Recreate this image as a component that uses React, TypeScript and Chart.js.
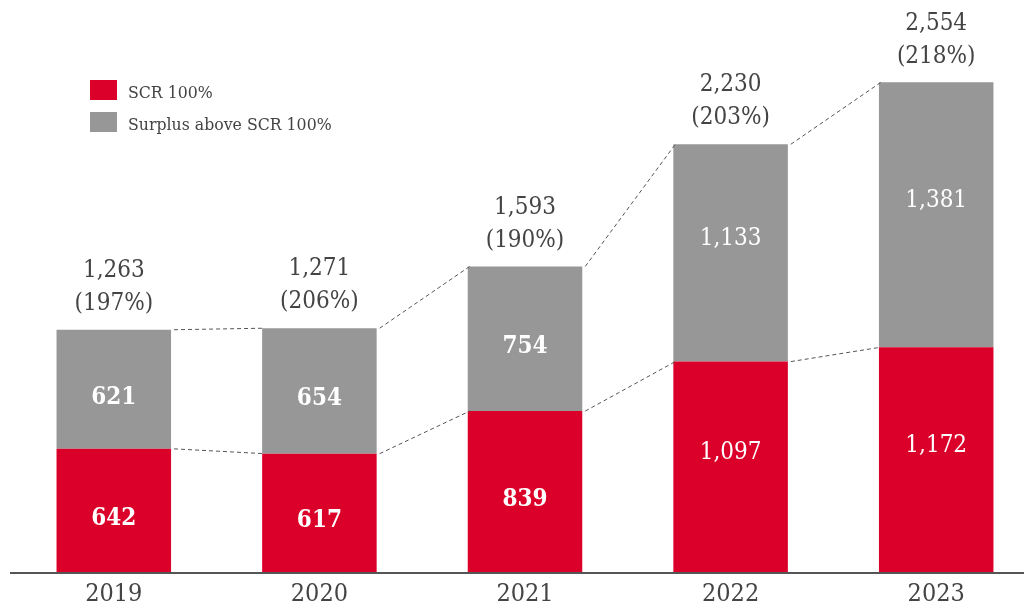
import React, { useEffect, useRef } from 'react';
import { Chart, registerables } from 'chart.js';

Chart.register(...registerables);

const years = ['2019', '2020', '2021', '2022', '2023'];
const scrValues = [642, 617, 839, 1097, 1172];
const surplusValues = [621, 654, 754, 1133, 1381];
const totalValues = [1263, 1271, 1593, 2230, 2554];
const ratioValues = [197, 206, 190, 203, 218];
const seriesNames = ['SCR 100%', 'Surplus above SCR 100%'];

const RED = '#db0029';
const GRAY = '#979797';
const TEXT = '#444444';
const FONT = '"DejaVu Serif Condensed", "DejaVu Serif", "Liberation Serif", serif';

const fmt = (v: number) => v.toLocaleString('en-US');

export default function App() {
  const ref = useRef<HTMLCanvasElement>(null);

  useEffect(() => {
    if (!ref.current) return;

    const overlay = {
      id: 'overlay',
      afterDatasetsDraw(chart: any) {
        const ctx = chart.ctx as CanvasRenderingContext2D;
        const area = chart.chartArea;
        const m0 = chart.getDatasetMeta(0).data as any[];
        const m1 = chart.getDatasetMeta(1).data as any[];
        ctx.save();

        // axis line
        ctx.strokeStyle = '#555555';
        ctx.lineWidth = 2;
        ctx.beginPath();
        ctx.moveTo(area.left - 1, area.bottom + 1);
        ctx.lineTo(area.right, area.bottom + 1);
        ctx.stroke();

        // dashed connectors
        ctx.strokeStyle = '#555555';
        ctx.lineWidth = 1;
        ctx.setLineDash([4, 3]);
        const connect = (arr: any[]) => {
          for (let i = 0; i < arr.length - 1; i++) {
            const a = arr[i];
            const b = arr[i + 1];
            ctx.beginPath();
            ctx.moveTo(a.x + a.width / 2 + 3, a.y);
            ctx.lineTo(b.x - b.width / 2 + 2, b.y);
            ctx.stroke();
          }
        };
        connect(m1);
        connect(m0);
        ctx.setLineDash([]);

        // inside labels
        ctx.textAlign = 'center';
        ctx.textBaseline = 'middle';
        ctx.fillStyle = '#ffffff';
        const inner = (arr: any[], vals: number[]) => {
          arr.forEach((el, i) => {
            const bold = i < 3;
            ctx.font = `${bold ? 'bold ' : ''}24px ${FONT}`;
            const cy = (el.y + el.base) / 2 + (bold ? 8 : -14);
            ctx.fillText(fmt(vals[i]), el.x, cy);
          });
        };
        inner(m0, scrValues);
        inner(m1, surplusValues);

        // totals above bars
        ctx.fillStyle = TEXT;
        ctx.font = `24px ${FONT}`;
        m1.forEach((el, i) => {
          ctx.fillText(`(${ratioValues[i]}%)`, el.x, el.y - 26);
          ctx.fillText(fmt(totalValues[i]), el.x, el.y - 59);
        });

        // legend
        const colors = [RED, GRAY];
        ctx.textAlign = 'left';
        ctx.font = `17.5px ${FONT}`;
        seriesNames.forEach((name, i) => {
          const y = 80 + i * 32;
          ctx.fillStyle = colors[i];
          ctx.fillRect(90, y, 27, 20);
          ctx.fillStyle = TEXT;
          ctx.fillText(name, 128, y + 13);
        });

        ctx.restore();
      },
    };

    const chart = new Chart(ref.current, {
      type: 'bar',
      data: {
        labels: years,
        datasets: [
          { label: seriesNames[0], data: scrValues, backgroundColor: RED, stack: 's' },
          { label: seriesNames[1], data: surplusValues, backgroundColor: GRAY, stack: 's' },
        ],
      },
      options: {
        responsive: false,
        animation: false,
        layout: { padding: { left: 11, right: 21, top: 0, bottom: 0 } },
        datasets: { bar: { categoryPercentage: 1, barPercentage: 0.557 } } as any,
        plugins: { legend: { display: false }, tooltip: { enabled: false } },
        scales: {
          x: {
            stacked: true,
            grid: { display: false },
            border: { display: false },
            ticks: { color: TEXT, font: { family: FONT, size: 25, lineHeight: 1.0 }, padding: 2 },
            afterFit: (scale: any) => {
              scale.height = 31;
            },
          },
          y: { stacked: true, display: false, min: 0, max: 2982 },
        },
      },
      plugins: [overlay],
    });

    return () => chart.destroy();
  }, []);

  return (
    <div
      style={{
        position: 'fixed',
        left: 0,
        top: 0,
        width: 1024,
        height: 603,
        overflow: 'hidden',
        background: '#ffffff',
      }}
    >
      <canvas ref={ref} width={1060} height={603} style={{ display: 'block' }} />
    </div>
  );
}
